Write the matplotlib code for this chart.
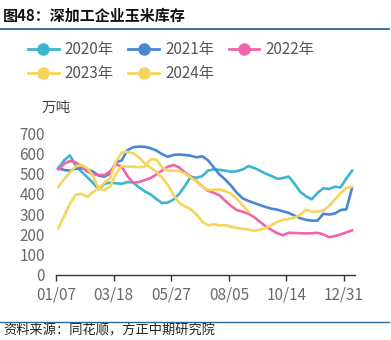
import numpy as np
import matplotlib.pyplot as plt
from matplotlib.lines import Line2D

plt.rcParams['font.family'] = ['Noto Sans CJK SC', 'DejaVu Sans']

# weekly inventory, 10k tonnes
weeks = np.arange(52)
tick_pos = [-0.4, 9.6, 19.6, 29.6, 39.6, 49.6]
tick_lab = ['01/07', '03/18', '05/27', '08/05', '10/14', '12/31']

y2020 = [526, 565, 590, 540, 510, 483, 455, 422, 450, 455, 452, 450, 458, 456, 432, 412,
         398, 375, 355, 357, 372, 400, 440, 484, 479, 488, 515, 521, 518, 514, 509, 512,
         520, 537, 528, 514, 500, 488, 474, 478, 485, 450, 410, 388, 373, 405, 427, 424,
         435, 432, 476, 514]
y2021 = [526, 518, 514, 524, 526, 520, 510, 490, 485, 500, 555, 565, 615, 630, 633, 632,
         625, 614, 596, 583, 592, 594, 592, 588, 580, 585, 565, 530, 495, 470, 440, 405,
         378, 365, 355, 345, 335, 327, 322, 314, 306, 293, 280, 272, 268, 268, 302, 298,
         303, 320, 324, 430]
y2022 = [521, 548, 562, 556, 536, 510, 497, 493, 493, 510, 545, 535, 488, 455, 458, 468,
         478, 495, 515, 534, 542, 530, 505, 485, 462, 436, 415, 405, 392, 365, 340, 320,
         312, 302, 285, 262, 240, 222, 206, 196, 208, 207, 206, 205, 206, 208, 200, 186,
         192, 200, 210, 220]
y2023 = [230, 290, 350, 395, 400, 385, 408, 428, 455, 478, 560, 603, 607, 600, 580, 550,
         530, 510, 480, 445, 395, 355, 338, 325, 298, 262, 245, 250, 244, 246, 238, 232,
         228, 224, 218, 222, 232, 245, 262, 272, 276, 283, 296, 322, 312, 312, 318, 340,
         372, 402, 430, 435]
y2024 = [435, 472, 505, 535, 542, 528, 490, 425, 419, 435, 500, 537, 534, 534, 531, 535,
         570, 570, 530, 514, 515, 512, 500, 480, 460, 435, 419, 420, 422, 413, 400, 375,
         345, 312]

series = [('2020年', y2020, '#3cb6d0'),
          ('2021年', y2021, '#4a87d3'),
          ('2022年', y2022, '#f064aa'),
          ('2023年', y2023, '#f5d65c'),
          ('2024年', y2024, '#f5d65c')]

fig = plt.figure(figsize=(3.91, 3.40), dpi=100)
ax = fig.add_axes([0.1432, 0.1912, 0.7647, 0.4176])

for name, vals, col in series:
    ax.plot(weeks[:len(vals)], vals, color=col, lw=1.9, solid_joinstyle='round')

ax.set_xlim(-0.4, 51.5)
ax.set_ylim(0, 700)
ax.set_yticks(range(0, 701, 100))
ax.set_xticks(tick_pos)
ax.set_xticklabels(tick_lab)
for s in ['top', 'right', 'left']:
    ax.spines[s].set_visible(False)
ax.spines['bottom'].set_color('#333333')
ax.spines['bottom'].set_linewidth(1.0)
ax.tick_params(axis='y', length=0, pad=8, labelsize=11, labelcolor='#6a6a6a')
ax.tick_params(axis='x', length=4, width=1, color='#333333', pad=4,
               labelsize=11, labelcolor='#6a6a6a')

ax.text(-0.047, 1.176, '万吨', transform=ax.transAxes, fontsize=10.5, color='#444444',
        ha='left', va='center')

# legend, row-major order like the reference
order = [0, 3, 1, 4, 2]
handles = [Line2D([], [], color=series[i][2], lw=2, marker='o', markersize=8) for i in order]
labels = [series[i][0] for i in order]
fig.legend(handles, labels, ncol=3, loc='upper left', bbox_to_anchor=(0.072, 0.878),
           frameon=False, fontsize=11, labelcolor='#555555', handlelength=2.0,
           handletextpad=0.4, columnspacing=0.95, labelspacing=0.45, borderpad=0,
           borderaxespad=0)

# title and source
fig.text(0.008, 0.955, '图48：深加工企业玉米库存', fontsize=10.8, fontweight='bold',
         color='#111111', ha='left', va='center')
fig.add_artist(Line2D([0, 0.995], [0.915, 0.915], color='#2b6a9c', lw=1.3))
fig.add_artist(Line2D([0, 0.995], [0.053, 0.053], color='#2b6a9c', lw=1.0))
fig.text(0.008, 0.026, '资料来源：同花顺，方正中期研究院', fontsize=9.5, color='#222222',
         ha='left', va='center', style='italic')

fig.savefig('out.png', dpi=100)
